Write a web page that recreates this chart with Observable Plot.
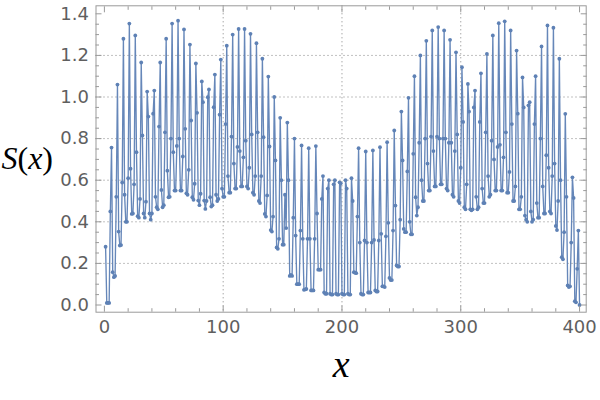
<!DOCTYPE html>
<html><head><meta charset="utf-8">
<script src="https://cdn.jsdelivr.net/npm/d3@7"></script>
<script src="https://cdn.jsdelivr.net/npm/@observablehq/plot@0.6"></script>
<style>
html,body{margin:0;padding:0;background:#fff;}
#chart{width:600px;height:400px;}
</style></head><body><div id="chart"></div>
<script>
// S(x), x = 1 .. 400
const s001_100 = [
0.28,0.01,0.01,0.01,0.45,0.757,0.158,0.134,0.14,0.52,
1.06,0.353,0.286,0.288,0.589,1.28,0.53,0.40,0.40,0.61,
1.353,0.655,0.438,0.44,0.58,1.296,0.735,0.427,0.42,0.51,
1.166,0.815,0.44,0.42,0.497,1.026,0.906,0.44,0.41,0.44,
0.92,1.031,0.52,0.47,0.46,0.858,1.166,0.553,0.47,0.48,
0.83,1.28,0.646,0.518,0.52,0.80,1.353,0.735,0.55,0.55,
0.765,1.367,0.80,0.55,0.55,0.714,1.325,0.847,0.537,0.53,
0.65,1.252,0.887,0.518,0.506,0.583,1.161,0.924,0.502,0.48,
0.535,1.075,0.975,0.502,0.462,0.50,0.999,1.036,0.518,0.473,
0.48,0.951,1.108,0.53,0.50,0.51,0.915,1.18,0.56,0.52];
const s101_200 = [
0.52,0.87,1.247,0.62,0.54,0.54,0.81,1.30,0.68,0.56,
0.56,0.76,1.327,0.74,0.57,0.57,0.71,1.327,0.79,0.57,
0.56,0.66,1.304,0.82,0.54,0.53,0.62,1.259,0.83,0.50,
0.49,0.62,1.184,0.807,0.438,0.425,0.527,1.098,0.762,0.36,
0.353,0.425,1.0,0.695,0.277,0.27,0.318,0.9,0.60,0.29,
0.29,0.53,0.37,0.877,0.60,0.14,0.145,0.14,0.42,0.80,
0.334,0.10,0.10,0.10,0.358,0.767,0.318,0.073,0.075,0.077,
0.318,0.754,0.318,0.07,0.07,0.07,0.318,0.764,0.44,0.17,
0.17,0.17,0.51,0.62,0.06,0.054,0.054,0.56,0.60,0.054,
0.05,0.05,0.58,0.60,0.054,0.05,0.05,0.59,0.585,0.054];
const s201_300 = [
0.05,0.05,0.60,0.56,0.054,0.05,0.05,0.61,0.50,0.158,
0.155,0.153,0.425,0.754,0.30,0.054,0.05,0.05,0.31,0.738,
0.30,0.06,0.06,0.06,0.30,0.743,0.313,0.07,0.065,0.065,
0.31,0.759,0.342,0.09,0.09,0.086,0.33,0.783,0.395,0.13,
0.12,0.12,0.358,0.839,0.478,0.19,0.185,0.185,0.41,0.93,
0.695,0.366,0.35,0.35,0.642,0.996,0.40,0.34,0.34,0.727,
1.10,0.518,0.43,0.47,0.78,1.20,0.60,0.50,0.50,0.80,
1.27,0.68,0.55,0.55,0.81,1.32,0.74,0.57,0.57,0.81,
1.336,0.80,0.58,0.58,0.80,1.32,0.80,0.56,0.55,0.78,
1.275,0.78,0.53,0.52,0.74,1.215,0.82,0.50,0.49,0.66];
const s301_400 = [
1.143,0.88,0.47,0.46,0.58,1.063,0.93,0.46,0.455,0.46,
0.95,1.031,0.52,0.46,0.47,0.88,1.114,0.56,0.49,0.49,
0.83,1.207,0.62,0.52,0.53,0.79,1.296,0.70,0.55,0.55,
0.76,1.355,0.77,0.55,0.55,0.71,1.364,0.83,0.54,0.54,
0.64,1.32,0.87,0.50,0.50,0.57,1.223,0.92,0.46,0.46,
0.52,1.094,0.95,0.43,0.41,0.40,0.96,0.975,0.45,0.40,
0.41,0.87,1.10,0.49,0.42,0.42,0.80,1.243,0.57,0.44,
0.44,0.72,1.344,0.66,0.45,0.44,0.62,1.333,0.68,0.38,
0.36,0.50,1.184,0.60,0.23,0.22,0.35,0.919,0.52,0.094,
0.086,0.09,0.30,0.614,0.515,0.018,0.013,0.174,0.358,0.0];

const xFirst = 1;
const xTicks = [0, 100, 200, 300, 400];
const xTickLabels = ["0", "100", "200", "300", "400"];
const xMinorStep = 20;
const yTicks = [0, 0.2, 0.4, 0.6, 0.8, 1.0, 1.2, 1.4];
const yTickLabels = ["0.0", "0.2", "0.4", "0.6", "0.8", "1.0", "1.2", "1.4"];
const yMinorStep = 0.05;
const xGrid = [100, 200, 300];
const yGrid = [0.2, 0.4, 0.6, 0.8, 1.0, 1.2];
const xLabel = "x";
const yLabel = "S(x)";

const values = [].concat(s001_100, s101_200, s201_300, s301_400);
const data = values.map((v, i) => ({x: xFirst + i, y: v}));
const xMinor = d3.range(0, 401, xMinorStep).filter(v => !xTicks.includes(v));
const yMinor = d3.range(0, 1.4001, yMinorStep).map(v => +v.toFixed(2)).filter(v => !yTicks.some(t => Math.abs(t - v) < 1e-6));

const blue = "#5E81B5";
const frameGray = "#9a9a9a";
const labelGray = "#5f5f5f";

const chart = Plot.plot({
  width: 600, height: 400,
  marginLeft: 95.5, marginRight: 14.3, marginTop: 5.3, marginBottom: 88.3,
  x: {domain: [-7.07, 405.6]},
  y: {domain: [-0.0346, 1.4385]},
  style: {fontFamily: "DejaVu Sans", background: "white", overflow: "visible"},
  marks: [
    Plot.ruleX(xGrid, {stroke: "#777", strokeOpacity: 0.9, strokeDasharray: "1,3", strokeWidth: 1}),
    Plot.ruleY(yGrid, {stroke: "#777", strokeOpacity: 0.9, strokeDasharray: "1,3", strokeWidth: 1}),
    Plot.line(data, {x: "x", y: "y", stroke: blue, strokeWidth: 1.35, strokeOpacity: 0.95}),
    Plot.dot(data, {x: "x", y: "y", r: 1.9, fill: blue, stroke: "none"}),
    Plot.frame({stroke: frameGray}),
    Plot.axisX(xTicks, {anchor: "bottom", tickSize: -6, fill: "none", stroke: frameGray, label: null}),
    Plot.axisX(xTicks, {anchor: "top", tickSize: -6, fill: "none", stroke: frameGray, label: null}),
    Plot.axisX(xMinor, {anchor: "bottom", tickSize: -3.5, fill: "none", stroke: frameGray, label: null}),
    Plot.axisX(xMinor, {anchor: "top", tickSize: -3.5, fill: "none", stroke: frameGray, label: null}),
    Plot.axisY(yTicks, {anchor: "left", tickSize: -6, fill: "none", stroke: frameGray, label: null}),
    Plot.axisY(yTicks, {anchor: "right", tickSize: -6, fill: "none", stroke: frameGray, label: null}),
    Plot.axisY(yMinor, {anchor: "left", tickSize: -3.5, fill: "none", stroke: frameGray, label: null}),
    Plot.axisY(yMinor, {anchor: "right", tickSize: -3.5, fill: "none", stroke: frameGray, label: null}),
    Plot.axisX(xTicks, {anchor: "bottom", tickSize: 0, tickPadding: 8, tickFormat: d => xTickLabels[xTicks.indexOf(d)], fontSize: 18, fill: labelGray, label: null}),
    Plot.axisY(yTicks, {anchor: "left", tickSize: 0, tickPadding: 7, tickFormat: d => yTickLabels[yTicks.indexOf(d)], fontSize: 18, fill: labelGray, label: null}),
    Plot.text([xLabel], {frameAnchor: "bottom", dy: 65, text: d => d, fontSize: 38, fontStyle: "italic", fontFamily: "Liberation Serif", fill: "#000", className: "xlab"}),
    Plot.text([yLabel], {frameAnchor: "left", dx: -43, textAnchor: "end", text: d => d, fontSize: 32, fontFamily: "Liberation Serif", fill: "#000", className: "ylab"})
  ]
});
chart.querySelectorAll(".ylab text").forEach(t => {
  t.textContent = "";
  const parts = [["S", true], ["(", false], ["x", true], [")", false]];
  for (const [s, it] of parts) {
    const ts = document.createElementNS("http://www.w3.org/2000/svg", "tspan");
    ts.textContent = s;
    if (it) ts.setAttribute("font-style", "italic");
    t.appendChild(ts);
  }
});
document.getElementById("chart").appendChild(chart);
</script>
</body></html>
